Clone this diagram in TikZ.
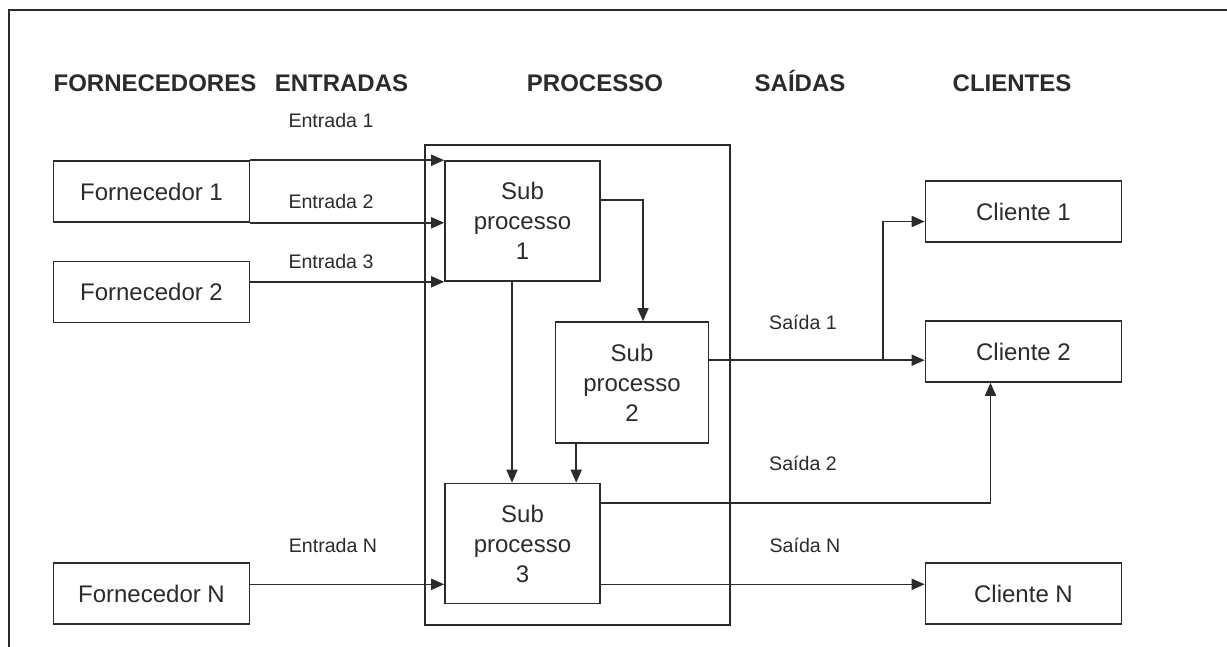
\documentclass[tikz,border=0pt]{standalone}
\usepackage{fontspec}
\setmainfont{Liberation Sans}
\usetikzlibrary{arrows.meta}
\definecolor{tinta}{HTML}{2B2B2B}

\begin{document}
\begin{tikzpicture}[x=0.5pt, y=-0.5pt, line width=0.8pt, tinta,
    >={Triangle[length=6.5pt,width=5.5pt]},
    caixa/.style={draw, rectangle, minimum width=98pt, minimum height=30.5pt,
      inner sep=0pt, font=\fontsize{12}{15}\selectfont},
    subproc/.style={draw, rectangle, minimum width=77.5pt, minimum height=60pt,
      inner sep=0pt, align=center, font=\fontsize{12}{15}\selectfont},
    titulo/.style={font=\bfseries\fontsize{12}{14}\selectfont,
      text height=8.6pt, text depth=0pt},
    rotulo/.style={font=\fontsize{9.8}{12}\selectfont,
      text height=7pt, text depth=0pt}]
    \useasboundingbox (0,0) rectangle (1227,647);
    \draw (9,647) -- (9,10) -- (1227,10);
    % column headings
    \node[titulo] (tforn) at (155,83) {FORNECEDORES};
    \node[titulo] (tentr) at (341.5,83) {ENTRADAS};
    \node[titulo] (tproc) at (595,83) {PROCESSO};
    \node[titulo] (tsai) at (800,83) {SAÍDAS};
    \node[titulo] (tcli) at (1012,83) {CLIENTES};
    % suppliers
    \node[caixa] (forn1) at (151.5,191.5) {Fornecedor 1};
    \node[caixa] (forn2) at (151.5,292) {Fornecedor 2};
    \node[caixa] (fornN) at (151.5,593.5) {Fornecedor N};
    % process
    \node[draw, rectangle, minimum width=152.5pt, minimum height=240pt, inner sep=0pt]
      (proc) at (577.5,385) {};
    \node[subproc] (sub1) at (522.5,221) {Sub\\processo\\1};
    \node[subproc, minimum width=76.5pt, minimum height=60.5pt] (sub2) at (632,382.5) {Sub\\processo\\2};
    \node[subproc] (sub3) at (522.5,543.5) {Sub\\processo\\3};
    % clients
    \node[caixa] (cli1) at (1023.5,211.5) {Cliente 1};
    \node[caixa] (cli2) at (1023.5,351.5) {Cliente 2};
    \node[caixa] (cliN) at (1023.5,593.5) {Cliente N};
    % inputs
    \node[rotulo] (e1) at (331,121) {Entrada 1};
    \node[rotulo] (e2) at (331,201) {Entrada 2};
    \node[rotulo] (e3) at (331,261) {Entrada 3};
    \node[rotulo] (eN) at (333,545) {Entrada N};
    \coordinate (inN) at ([yshift=10pt]sub3.south west);
    \draw[->] (forn1.north east) -- (sub1.north west);
    \draw[->] (forn1.south east) -- (forn1.south east -| sub1.west);
    \draw[->] (forn2.east |- sub1.south west) -- (sub1.south west);
    \draw[->] (fornN.east |- inN) -- (inN);
    % inside the process
    \draw[->] ([yshift=-20pt]sub1.north east) -| ([xshift=5.5pt]sub2.north);
    \draw[->] ([xshift=-5.25pt]sub1.south) -- ([xshift=-5.25pt]sub3.north);
    \draw[->] ([xshift=10.75pt]sub2.south west) -- ([xshift=10.75pt]sub2.south west |- sub3.north);
    % outputs
    \node[rotulo] (s1) at (803,322) {Saída 1};
    \node[rotulo] (s2) at (803,463) {Saída 2};
    \node[rotulo] (sN) at (805,545) {Saída N};
    \coordinate (out1) at ([yshift=-19.5pt]sub2.north east);
    \coordinate (ramo) at (out1 -| 883,0);
    \draw[->] (out1) -- (out1 -| cli2.west);
    \draw[->] (ramo) |- ([yshift=-5pt]cli1.west);
    \draw[->] ([yshift=-10pt]sub3.north east) -| ([xshift=-16.5pt]cli2.south);
    \draw[->] ([yshift=10pt]sub3.south east) -- ([yshift=10pt]sub3.south east -| cliN.west);
  \end{tikzpicture}
\end{document}
